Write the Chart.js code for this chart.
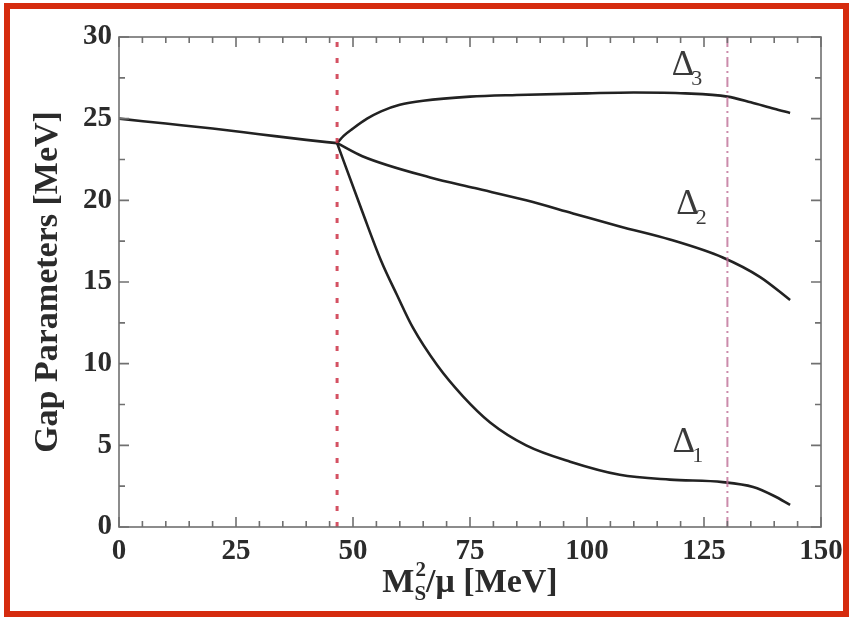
<!DOCTYPE html>
<html>
<head>
<meta charset="utf-8">
<script src="https://cdn.jsdelivr.net/npm/chart.js@4/dist/chart.umd.min.js"></script>
<style>
  body { margin: 0; background: #fff; }
  #wrap { position: relative; width: 852px; height: 620px; }
  #frame {
    position: absolute; left: 4px; top: 3px; width: 845px; height: 614px;
    box-sizing: border-box; border: 6px solid #d52b0e; pointer-events: none;
  }
  canvas { position: absolute; left: 0; top: 0; }
</style>
</head>
<body>
<div id="wrap">
  <canvas id="gapChart" width="852" height="620"></canvas>
  <div id="frame"></div>
</div>
<script>
// common branch below the first transition
const commonX = [0, 10, 20, 30, 40, 46.6];
const commonY = [25.0, 24.7, 24.4, 24.05, 23.7, 23.5];

// Delta_1
const d1X = [46.6, 52, 56, 59.4, 62.8, 68, 73.5, 79.3, 87, 96.4, 107, 117.7, 129, 135.5, 140, 143.4];
const d1Y = [23.5, 19.3, 16.3, 14.2, 12.2, 9.9, 8.0, 6.4, 5.0, 4.0, 3.2, 2.9, 2.75, 2.45, 1.9, 1.35];

// Delta_2
const d2X = [46.6, 52, 66.5, 76, 87, 97, 107, 117.7, 129, 137, 143.4];
const d2Y = [23.5, 22.7, 21.4, 20.75, 20.0, 19.2, 18.4, 17.6, 16.5, 15.3, 13.9];

// Delta_3
const d3X = [46.6, 48, 50, 53, 56, 60, 65, 75, 85, 100, 110, 121, 130, 135, 140, 143.4];
const d3Y = [23.5, 23.95, 24.4, 25.0, 25.45, 25.85, 26.1, 26.35, 26.45, 26.55, 26.6, 26.55, 26.35, 26.0, 25.6, 25.35];

// vertical markers
const transitionX = [46.6, 130];

const xTicks = [0, 25, 50, 75, 100, 125, 150];
const yTicks = [0, 5, 10, 15, 20, 25, 30];

// curve labels: [x, y, subscript]
const deltaLabels = [
    [120.5, 28.4, '3'],
    [121.5, 19.9, '2'],
    [120.7, 5.3, '1']
];

const serif = '"Liberation Serif", "DejaVu Serif", serif';
const ink = '#2b2b2b';

function pts(xs, ys) {
    return xs.map((x, i) => ({ x, y: ys[i] }));
}

function curve(xs, ys) {
    return {
        data: pts(xs, ys),
        borderColor: '#222',
        borderWidth: 2.6,
        pointRadius: 0,
        showLine: true,
        cubicInterpolationMode: 'monotone',
        fill: false
    };
}

// inward ticks on all four sides plus the frame
const frameTicks = {
    id: 'frameTicks',
    afterDatasetsDraw(chart) {
        const { ctx, chartArea: a, scales: { x, y } } = chart;
        ctx.save();
        ctx.strokeStyle = '#707070';
        ctx.lineWidth = 1.6;
        ctx.strokeRect(a.left, a.top, a.right - a.left, a.bottom - a.top);
        ctx.beginPath();
        for (let v = 0; v <= 150; v += 5) {
            const px = x.getPixelForValue(v);
            const len = v % 25 === 0 ? 10 : 6;
            ctx.moveTo(px, a.bottom); ctx.lineTo(px, a.bottom - len);
            ctx.moveTo(px, a.top); ctx.lineTo(px, a.top + len);
        }
        for (let v = 0; v <= 30; v += 2.5) {
            const py = y.getPixelForValue(v);
            const len = v % 5 === 0 ? 10 : 6;
            ctx.moveTo(a.left, py); ctx.lineTo(a.left + len, py);
            ctx.moveTo(a.right, py); ctx.lineTo(a.right - len, py);
        }
        ctx.stroke();
        ctx.restore();
    }
};

// Delta labels and the x-axis title with sub/superscript
const textLayer = {
    id: 'textLayer',
    afterDraw(chart) {
        const { ctx, chartArea: a, scales: { x, y } } = chart;
        ctx.save();
        ctx.fillStyle = '#3a3a3a';
        ctx.textBaseline = 'alphabetic';
        deltaLabels.forEach(([lx, ly, sub]) => {
            const px = x.getPixelForValue(lx);
            const py = y.getPixelForValue(ly);
            ctx.font = '35px ' + serif;
            ctx.textAlign = 'center';
            ctx.fillText('\u0394', px, py + 12);
            const w = ctx.measureText('\u0394').width;
            ctx.font = '22px ' + serif;
            ctx.textAlign = 'left';
            ctx.fillText(sub, px + w / 2 - 3, py + 22);
        });

        // x title: M_S^2/mu [MeV]
        ctx.fillStyle = ink;
        const base = 592;
        const big = 'bold 34px ' + serif;
        const small = 'bold 21px ' + serif;
        ctx.font = big;
        const wM = ctx.measureText('M').width;
        const rest = '/\u03bc [MeV]';
        const wRest = ctx.measureText(rest).width;
        ctx.font = small;
        const wS = Math.max(ctx.measureText('S').width, ctx.measureText('2').width);
        const total = wM + wS + wRest;
        let cx = (a.left + a.right) / 2 - total / 2;
        ctx.textAlign = 'left';
        ctx.font = big;
        ctx.fillText('M', cx, base);
        cx += wM;
        ctx.font = small;
        ctx.fillText('S', cx, base + 8);
        ctx.fillText('2', cx + 1, base - 16);
        cx += wS;
        ctx.font = big;
        ctx.fillText(rest, cx, base);
        ctx.restore();
    }
};

const markerStyle = [
    { color: 'rgba(205, 50, 70, 0.85)', dash: [5, 11], width: 3 },
    { color: 'rgba(190, 110, 150, 0.8)', dash: [10, 4, 2, 4], width: 2 }
];

const markers = transitionX.map((xv, i) => ({
    data: [{ x: xv, y: 0 }, { x: xv, y: 30 }],
    borderColor: markerStyle[i].color,
    borderDash: markerStyle[i].dash,
    borderWidth: markerStyle[i].width,
    pointRadius: 0,
    showLine: true,
    fill: false
}));

new Chart(document.getElementById('gapChart'), {
    type: 'scatter',
    data: {
        datasets: [
            ...markers,
            curve(commonX, commonY),
            curve(d1X, d1Y),
            curve(d2X, d2Y),
            curve(d3X, d3Y)
        ]
    },
    options: {
        responsive: false,
        animation: false,
        layout: { padding: { left: 0, top: 37, right: 31, bottom: 0 } },
        plugins: {
            legend: { display: false },
            tooltip: { enabled: false }
        },
        scales: {
            x: {
                type: 'linear',
                min: 0,
                max: 150,
                afterFit: s => { s.height = 93; },
                afterBuildTicks: s => { s.ticks = xTicks.map(v => ({ value: v })); },
                grid: { display: false, drawTicks: false },
                border: { display: false },
                ticks: {
                    color: ink,
                    padding: 7,
                    maxRotation: 0,
                    font: { family: serif, size: 29, weight: 'bold' }
                }
            },
            y: {
                type: 'linear',
                min: 0,
                max: 30,
                afterFit: s => { s.width = 119; },
                afterBuildTicks: s => { s.ticks = yTicks.map(v => ({ value: v })); },
                grid: { display: false, drawTicks: false },
                border: { display: false },
                title: {
                    display: true,
                    text: 'Gap Parameters [MeV]',
                    color: ink,
                    padding: { top: 28, bottom: 0 },
                    font: { family: serif, size: 34, weight: 'bold' }
                },
                ticks: {
                    color: ink,
                    padding: 7,
                    font: { family: serif, size: 29, weight: 'bold' }
                }
            }
        }
    },
    plugins: [frameTicks, textLayer]
});
</script>
</body>
</html>
